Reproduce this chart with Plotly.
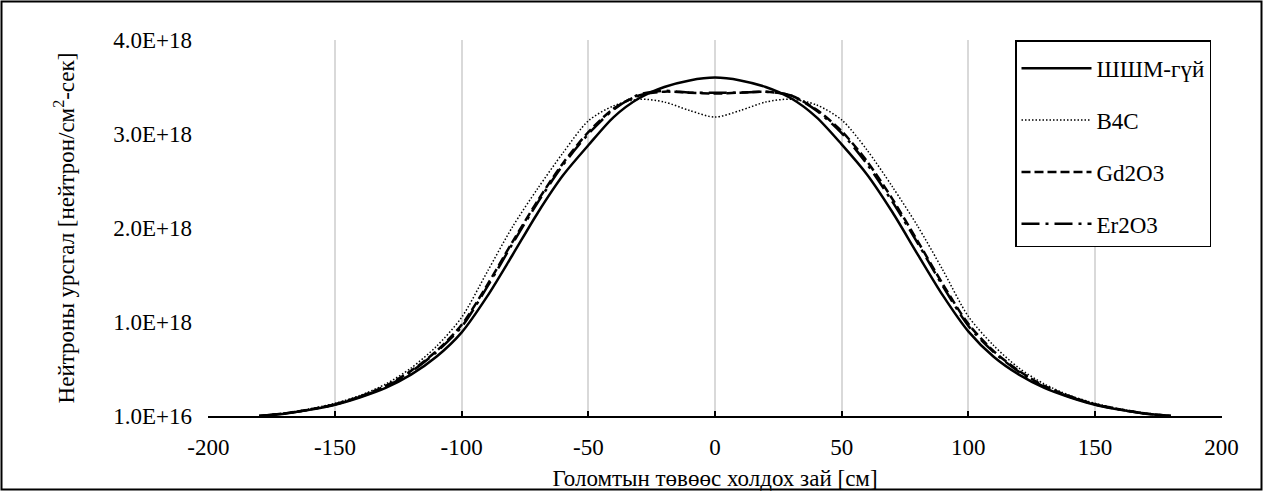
import numpy as np
import plotly.graph_objects as go

# Distance from core centre [cm]
x_cm = list(range(-180, 181, 10))

# Neutron flux, in units of 1e18 neutron/cm2-s
flux_no_rod = [0.01, 0.035, 0.075, 0.13, 0.21, 0.31, 0.45, 0.64, 0.90, 1.28, 1.72, 2.17, 2.57, 2.89, 3.19, 3.39, 3.51, 3.58, 3.61,
               3.58, 3.51, 3.39, 3.19, 2.90, 2.58, 2.18, 1.73, 1.29, 0.91, 0.64, 0.45, 0.31, 0.21, 0.13, 0.075, 0.035, 0.01]
flux_b4c = [0.01, 0.04, 0.085, 0.145, 0.23, 0.35, 0.52, 0.75, 1.06, 1.54, 2.02, 2.43, 2.81, 3.15, 3.31, 3.38, 3.35, 3.26, 3.19,
            3.26, 3.35, 3.38, 3.32, 3.16, 2.84, 2.45, 2.03, 1.56, 1.07, 0.76, 0.52, 0.35, 0.23, 0.145, 0.085, 0.04, 0.01]
flux_gd2o3 = [0.01, 0.037, 0.08, 0.135, 0.22, 0.33, 0.49, 0.70, 0.98, 1.40, 1.86, 2.30, 2.70, 3.03, 3.28, 3.42, 3.46, 3.45, 3.44,
              3.45, 3.46, 3.42, 3.27, 3.04, 2.72, 2.32, 1.87, 1.41, 0.99, 0.70, 0.49, 0.33, 0.22, 0.135, 0.08, 0.037, 0.01]
flux_er2o3 = [0.01, 0.036, 0.078, 0.133, 0.215, 0.32, 0.48, 0.69, 0.96, 1.38, 1.84, 2.28, 2.68, 3.01, 3.27, 3.43, 3.47, 3.45, 3.45,
              3.45, 3.46, 3.42, 3.26, 3.02, 2.69, 2.29, 1.85, 1.39, 0.97, 0.69, 0.48, 0.32, 0.215, 0.133, 0.078, 0.036, 0.01]

series_names = ["ШШМ-гүй", "B4C", "Gd2O3", "Er2O3"]
series_values = [flux_no_rod, flux_b4c, flux_gd2o3, flux_er2o3]

y_tick_values = [1e16, 1.01e18, 2.01e18, 3.01e18, 4.01e18]
y_tick_labels = ["1.0E+16", "1.0E+18", "2.0E+18", "3.0E+18", "4.0E+18"]
x_tick_values = list(range(-200, 201, 50))
x_tick_labels = [str(v) for v in x_tick_values]

SCALE = 1e18
styles = [
    dict(color="black", width=2.5, dash="solid"),
    dict(color="black", width=1.5, dash="1.5px,2px"),
    dict(color="black", width=2.5, dash="9px,4px"),
    dict(color="black", width=2.5, dash="18px,6px,3px,6px"),
]

FONT = "Liberation Serif"
FS = 23

fig = go.Figure()
for i, (name, vals) in enumerate(zip(series_names, series_values)):
    fig.add_trace(go.Scatter(
        x=x_cm, y=np.array(vals) * SCALE, mode="lines", name=name,
        line=dict(shape="spline", smoothing=0.8, **styles[i]),
        legendgroup=f"g{i}",
    ))

W, H = 1263, 491
L, R, T, B = 208, 41, 40, 75
pw, ph = W - L - R, H - T - B

def px2x(px):
    return (px - L) / pw

def py2y(py):
    return (H - B - py) / ph

fig.update_layout(
    width=W, height=H,
    margin=dict(l=L, r=R, t=T, b=B, autoexpand=False),
    paper_bgcolor="white", plot_bgcolor="white",
    font=dict(family=FONT, size=FS, color="black"),
    showlegend=True,
    legend=dict(
        x=px2x(1211), xanchor="right", y=1.0, yanchor="top",
        bordercolor="black", borderwidth=1.5, bgcolor="white",
        font=dict(family=FONT, size=FS, color="black"),
        title=dict(text=" ", font=dict(size=4)),
        tracegroupgap=19, itemwidth=70,
    ),
    xaxis=dict(
        range=[-200.15, 200.15], tickvals=x_tick_values, ticktext=x_tick_labels,
        showgrid=True, gridcolor="#d9d9d9", gridwidth=1.5,
        showline=True, linecolor="black", linewidth=2,
        ticks="inside", ticklen=5, tickwidth=2, tickcolor="black",
        zeroline=False, ticklabelstandoff=9,
        title=dict(text="Голомтын төвөөс холдох зай [см]", standoff=11,
                   font=dict(family=FONT, size=FS)),
    ),
    yaxis=dict(
        range=[1e16, 4.01e18], tickvals=y_tick_values, ticktext=y_tick_labels,
        showgrid=False, zeroline=False, showline=False, ticks="",
        ticklabelstandoff=15,
        title=dict(text="Нейтроны урсгал [нейтрон/см<sup>2</sup>-сек]", standoff=32,
                   font=dict(family=FONT, size=FS)),
    ),
    shapes=[dict(
        type="rect", xref="paper", yref="paper",
        x0=px2x(1.5), x1=px2x(W - 1.5), y0=py2y(H - 1.5), y1=py2y(1.5),
        line=dict(color="black", width=2), fillcolor="rgba(0,0,0,0)", layer="above",
    )],
)

fig.write_html("out.html", config={"displayModeBar": False},
               post_script="document.body.style.margin='0';document.body.style.overflow='hidden';")
